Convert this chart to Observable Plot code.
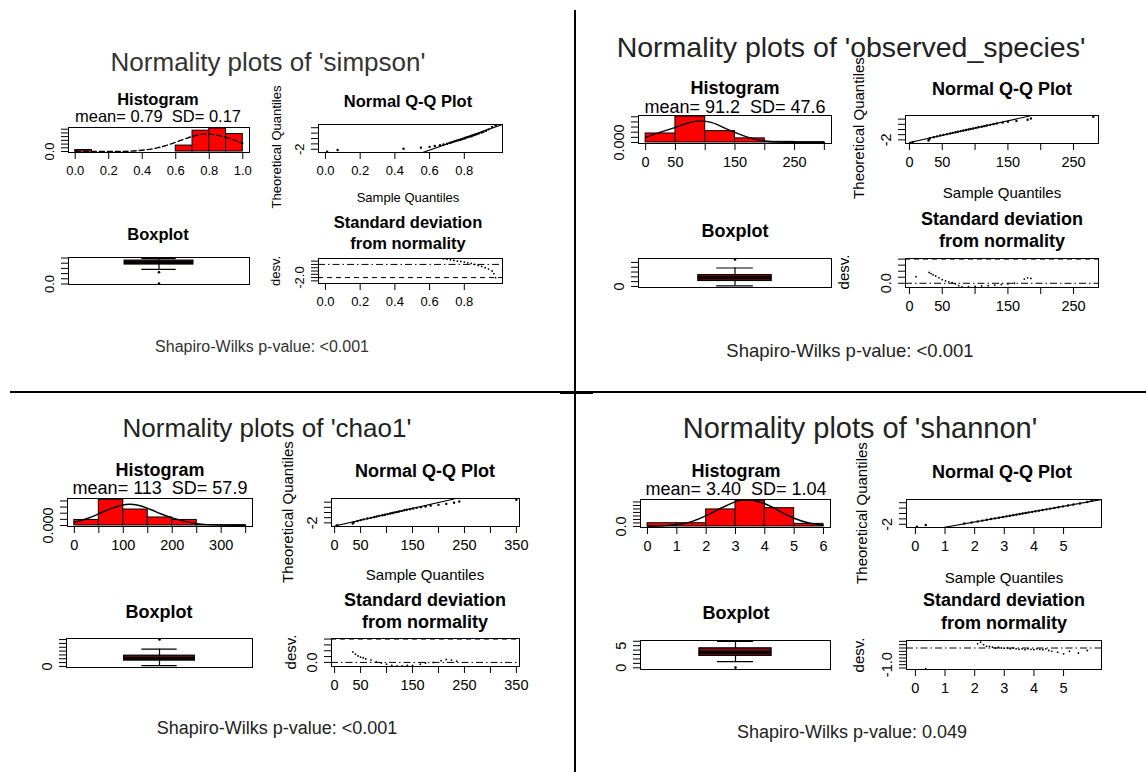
<!DOCTYPE html>
<html><head><meta charset="utf-8">
<script src="https://cdn.jsdelivr.net/npm/d3@7"></script>
<script src="https://cdn.jsdelivr.net/npm/@observablehq/plot@0.6"></script>
<style>
html,body{margin:0;padding:0;background:#fff;}
body{width:1146px;height:772px;position:relative;overflow:hidden;}
</style></head><body>
<script>
// ================= DATA =================
const variableNames = ["simpson", "observed_species", "chao1", "shannon"];
const meanLabels = ["0.79", "91.2", "113", "3.40"];
const sdLabels = ["0.17", "47.6", "57.9", "1.04"];
const pValueLabels = ["<0.001", "<0.001", "<0.001", "0.049"];

// ---- simpson ----
const simpsonBreaks = [0, 0.1, 0.2, 0.3, 0.4, 0.5, 0.6, 0.7, 0.8, 0.9, 1.0];
const simpsonDensity = [0.2, 0, 0, 0, 0, 0, 0.8, 2.8, 3.1, 2.35];
const simpsonCurveX = [0, 0.2, 0.3, 0.4, 0.5, 0.6, 0.7, 0.79, 0.9, 1.0];
const simpsonCurveY = [0, 0, 0.02, 0.17, 0.55, 1.25, 2.04, 2.35, 1.9, 1.09];
const simpsonHistXTicks = [0, 0.2, 0.4, 0.6, 0.8, 1.0];
const simpsonHistXLabels = ["0.0", "0.2", "0.4", "0.6", "0.8", "1.0"];
const simpsonHistYTicks = [0, 0.5, 1, 1.5, 2, 2.5, 3];
const simpsonHistYLabels = ["0.0", "", "", "", "", "", ""];
const simpsonQQSample = [0.01, 0.07, 0.45, 0.55, 0.6, 0.63, 0.66, 0.68, 0.70, 0.715, 0.725, 0.735, 0.745, 0.755, 0.765, 0.775, 0.78, 0.79, 0.80, 0.805, 0.81, 0.82, 0.83, 0.84, 0.845, 0.855, 0.865, 0.875, 0.885, 0.90, 0.91, 0.925, 0.94, 0.96, 0.98];
const simpsonQQTheo = [-2.45, -2.13, -1.9, -1.7, -1.55, -1.4, -1.26, -1.11, -0.97, -0.84, -0.73, -0.62, -0.52, -0.43, -0.34, -0.25, -0.17, -0.08, 0, 0.08, 0.17, 0.25, 0.34, 0.43, 0.52, 0.62, 0.73, 0.84, 0.97, 1.11, 1.26, 1.45, 1.7, 2.13, 2.45];
const simpsonQQLineX = [0.56, 1.02];
const simpsonQQLineY = [-2.6, 2.6];
const simpsonQQXTicks = [0, 0.2, 0.4, 0.6, 0.8];
const simpsonQQXLabels = ["0.0", "0.2", "0.4", "0.6", "0.8"];
const simpsonQQYTicks = [-2, -1, 0, 1, 2];
const simpsonQQYLabels = ["-2", "", "", "", ""];
const simpsonBoxStats = [0.56, 0.75, 0.83, 0.90, 0.98]; // lower whisker, Q1, median, Q3, upper whisker
const simpsonOutliers = [0.02, 0.45];
const simpsonBoxYTicks = [0, 0.2, 0.4, 0.6, 0.8, 1.0];
const simpsonBoxYLabels = ["0.0", "", "", "", "", ""];
const simpsonDevX = [0.68, 0.70, 0.72, 0.74, 0.76, 0.78, 0.80, 0.82, 0.84, 0.86, 0.88, 0.90, 0.92, 0.94, 0.96, 0.97, 0.98];
const simpsonDevY = [0.85, 0.8, 0.7, 0.6, 0.5, 0.45, 0.35, 0.25, 0.15, 0.0, -0.15, -0.3, -0.5, -0.7, -1.0, -1.4, -2.0];
const simpsonDevRefs = [0, -2]; // dot-dash, dashed
const simpsonDevYTicks = [-2.5, -2, -1.5, -1, -0.5, 0, 0.5];
const simpsonDevYLabels = ["", "-2.0", "", "", "", "", ""];

// ---- observed_species ----
const observedBreaks = [0, 50, 100, 150, 200, 250, 300];
const observedDensity = [0.0035, 0.0101, 0.0044, 0.0016, 0.00025, 0.00013];
const observedCurveX = [0, 25, 50, 75, 91, 110, 130, 150, 175, 200, 225, 250, 300];
const observedCurveY = [0.0020, 0.0040, 0.0059, 0.0078, 0.0083, 0.0078, 0.0059, 0.0039, 0.0018, 0.0006, 0.00015, 0.00004, 0];
const observedHistXTicks = [0, 50, 100, 150, 200, 250, 300];
const observedHistXLabels = ["0", "50", "", "150", "", "250", ""];
const observedHistYTicks = [0, 0.002, 0.004, 0.006, 0.008, 0.010];
const observedHistYLabels = ["0.000", "", "", "", "", ""];
const observedQQSample = [5, 29, 30, 31, 37, 42, 47, 52, 57, 62, 66, 70, 74, 78, 82, 86, 90, 93, 97, 101, 105, 110, 114, 118, 123, 128, 133, 142, 150, 163, 180, 185, 280];
const observedQQTheo = [-2.45, -2.13, -1.87, -1.66, -1.48, -1.32, -1.17, -1.03, -0.9, -0.77, -0.65, -0.53, -0.42, -0.31, -0.2, -0.1, 0, 0.1, 0.2, 0.31, 0.42, 0.53, 0.65, 0.77, 0.9, 1.03, 1.17, 1.32, 1.48, 1.66, 1.87, 2.13, 2.45];
const observedQQLineX = [0, 183];
const observedQQLineY = [-2.5, 2.6];
const observedQQXTicks = [0, 50, 100, 150, 200, 250];
const observedQQXLabels = ["0", "50", "", "150", "", "250"];
const observedQQYTicks = [-2, -1, 0, 1, 2];
const observedQQYLabels = ["-2", "", "", "", ""];
const observedBoxStats = [5, 57, 90, 118, 192];
const observedOutliers = [280];
const observedBoxYTicks = [0, 50, 100, 150, 200, 250];
const observedBoxYLabels = ["0", "", "", "", "", ""];
const observedDevX = [10, 30, 33, 36, 40, 45, 50, 55, 60, 65, 70, 75, 80, 90, 100, 110, 120, 130, 140, 150, 160, 175, 180, 185];
const observedDevY = [0.55, 0.9, 0.8, 0.7, 0.6, 0.45, 0.3, 0.2, 0.12, 0.05, -0.05, -0.2, -0.3, -0.28, -0.25, -0.22, -0.2, -0.15, -0.1, -0.05, 0.0, 0.35, 0.45, 0.4];
const observedDevRefs = [0, 2];
const observedDevYTicks = [0, 0.5, 1, 1.5, 2];
const observedDevYLabels = ["0.0", "", "", "", ""];

// ---- chao1 ----
const chao1Breaks = [0, 50, 100, 150, 200, 250, 300, 350];
const chao1Density = [0.0018, 0.0084, 0.0052, 0.0026, 0.0018, 0.0001, 0.0001];
const chao1CurveX = [0, 25, 50, 75, 113, 150, 175, 200, 250, 300, 350];
const chao1CurveY = [0.0010, 0.0022, 0.0038, 0.0055, 0.0069, 0.0056, 0.0039, 0.0025, 0.0006, 0.0001, 0];
const chao1HistXTicks = [0, 50, 100, 150, 200, 250, 300, 350];
const chao1HistXLabels = ["0", "", "100", "", "200", "", "300", ""];
const chao1HistYTicks = [0, 0.002, 0.004, 0.006, 0.008];
const chao1HistYLabels = ["0.000", "", "", "", ""];
const chao1QQSample = [5, 35, 37, 44, 50, 56, 63, 70, 76, 81, 86, 92, 97, 102, 107, 111, 115, 120, 124, 129, 134, 139, 145, 151, 158, 166, 175, 185, 200, 215, 230, 240, 350];
const chao1QQTheo = [-2.45, -2.13, -1.87, -1.66, -1.48, -1.32, -1.17, -1.03, -0.9, -0.77, -0.65, -0.53, -0.42, -0.31, -0.2, -0.1, 0, 0.1, 0.2, 0.31, 0.42, 0.53, 0.65, 0.77, 0.9, 1.03, 1.17, 1.32, 1.48, 1.66, 1.87, 2.13, 2.45];
const chao1QQLineX = [0, 230];
const chao1QQLineY = [-2.6, 2.6];
const chao1QQXTicks = [0, 50, 100, 150, 200, 250, 300, 350];
const chao1QQXLabels = ["0", "50", "", "150", "", "250", "", "350"];
const chao1QQYTicks = [-2, -1, 0, 1, 2];
const chao1QQYLabels = ["-2", "", "", "", ""];
const chao1BoxStats = [10, 76, 108, 140, 225];
const chao1Outliers = [350];
const chao1BoxYTicks = [0, 50, 100, 150, 200, 250, 300, 350];
const chao1BoxYLabels = ["0", "", "", "", "", "", "", ""];
const chao1DevX = [35, 40, 45, 50, 55, 60, 70, 80, 90, 100, 110, 120, 130, 140, 150, 165, 175, 190, 205, 215, 225, 235];
const chao1DevY = [0.9, 0.7, 0.55, 0.45, 0.4, 0.3, 0.2, 0.05, -0.05, -0.15, -0.25, -0.3, -0.3, -0.25, -0.25, -0.15, -0.05, 0.0, 0.15, 0.25, 0.2, 0.1];
const chao1DevRefs = [0, 2];
const chao1DevYTicks = [0, 0.5, 1, 1.5, 2];
const chao1DevYLabels = ["0.0", "", "", "", ""];

// ---- shannon ----
const shannonBreaks = [0, 1, 2, 3, 4, 5, 6];
const shannonDensity = [0.046, 0.046, 0.243, 0.367, 0.261, 0.037];
const shannonCurveX = [0, 0.5, 1, 1.5, 2, 2.5, 3, 3.4, 4, 4.5, 5, 5.5, 6];
const shannonCurveY = [0.002, 0.008, 0.027, 0.07, 0.154, 0.26, 0.356, 0.384, 0.324, 0.219, 0.117, 0.05, 0.017];
const shannonHistXTicks = [0, 1, 2, 3, 4, 5, 6];
const shannonHistXLabels = ["0", "1", "2", "3", "4", "5", "6"];
const shannonHistYTicks = [0, 0.05, 0.1, 0.15, 0.2, 0.25, 0.3, 0.35];
const shannonHistYLabels = ["0.0", "", "", "", "", "", "", ""];
const shannonQQSample = [0.05, 0.35, 1.65, 1.9, 2.1, 2.26, 2.41, 2.55, 2.69, 2.82, 2.95, 3.07, 3.19, 3.3, 3.41, 3.52, 3.62, 3.72, 3.82, 3.94, 4.05, 4.17, 4.29, 4.42, 4.55, 4.69, 4.83, 4.98, 5.15, 5.33, 5.55, 5.8, 5.95];
const shannonQQTheo = [-2.45, -2.13, -1.87, -1.66, -1.48, -1.32, -1.17, -1.03, -0.9, -0.77, -0.65, -0.53, -0.42, -0.31, -0.2, -0.1, 0, 0.1, 0.2, 0.31, 0.42, 0.53, 0.65, 0.77, 0.9, 1.03, 1.17, 1.32, 1.48, 1.66, 1.87, 2.13, 2.45];
const shannonQQLineX = [0.94, 6.3];
const shannonQQLineY = [-2.6, 2.6];
const shannonQQXTicks = [0, 1, 2, 3, 4, 5];
const shannonQQXLabels = ["0", "1", "2", "3", "4", "5"];
const shannonQQYTicks = [-2, -1, 0, 1, 2];
const shannonQQYLabels = ["-2", "", "", "", ""];
const shannonBoxStats = [1.4, 2.7, 3.5, 4.4, 5.95];
const shannonOutliers = [0.05];
const shannonBoxYTicks = [0, 1, 2, 3, 4, 5, 6];
const shannonBoxYLabels = ["0", "", "", "", "", "5", ""];
const shannonDevX = [0.35, 2.1, 2.2, 2.3, 2.4, 2.5, 2.6, 2.7, 2.8, 2.9, 3.0, 3.1, 3.2, 3.3, 3.4, 3.5, 3.6, 3.7, 3.8, 3.9, 4.0, 4.1, 4.2, 4.3, 4.4, 4.5, 4.6, 4.8, 5.0, 5.2, 5.5, 5.8];
const shannonDevY = [-1.25, 0.25, 0.35, 0.2, 0.1, 0.1, 0.05, 0.0, 0.05, 0.0, -0.02, 0.0, -0.05, 0.0, -0.05, -0.08, -0.05, -0.1, -0.05, -0.08, -0.1, -0.05, -0.08, -0.1, -0.05, -0.15, -0.2, -0.25, -0.35, -0.2, -0.3, -0.15];
const shannonDevRefs = [0, 2];
const shannonDevYTicks = [-1.2, -1.0, -0.8, -0.6, -0.4, -0.2, 0, 0.2, 0.4];
const shannonDevYLabels = ["", "-1.0", "", "", "", "", "", "", ""];

// ================= LAYOUT (positions / styles only) =================
const FONT = '"Liberation Sans", Arial, Helvetica, sans-serif';
const boxWex = 0.38;
const LAYOUT = {
  simpson: {
    title: [268, 62, 26], sub: 16.5, tick: 13, lab: 13, shap: 16, txt: "#333",
    histBox: [68, 127, 249, 152], histTitle: [158, 99], histSub: [158, 116], histX: [-0.04, 1.04], histY: [-0.13, 3.23], curveDash: "5,3",
    qqBox: [318, 124, 502, 152], qqTitle: [408, 101], sampLab: [408, 197], theoLab: [276, 147], qqX: [-0.04, 1.02], qqY: [-2.6, 2.6],
    boxBox: [68, 257, 249, 284], boxTitle: [158, 234], boxY: [-0.02, 1.02],
    devBox: [318, 258, 502, 283], devTitle: [408, 222, 243], desvLab: [275, 271], devY: [-2.9, 0.9],
    shapiro: [262, 347]
  },
  observed_species: {
    title: [851, 47, 28.5], sub: 18, tick: 14.5, lab: 15, shap: 18.5, txt: "#222",
    histBox: [638, 115, 831, 143], histTitle: [735, 88], histSub: [735, 107], histX: [-12, 312], histY: [-0.0004, 0.0105], curveDash: null,
    qqBox: [905, 115, 1098, 143], qqTitle: [1002, 89], sampLab: [1002, 192], theoLab: [858, 128], qqX: [-6, 288], qqY: [-2.7, 2.7],
    boxBox: [638, 258, 831, 287], boxTitle: [735, 231], boxY: [-11, 291],
    devBox: [905, 258, 1098, 287], devTitle: [1002, 219, 241], desvLab: [843, 272], devY: [-0.35, 2.05],
    shapiro: [850, 351]
  },
  chao1: {
    title: [267, 428, 26], sub: 18, tick: 14.5, lab: 15, shap: 18, txt: "#222",
    histBox: [67, 498, 252, 526], histTitle: [160, 470], histSub: [160, 488], histX: [-14, 364], histY: [-0.00034, 0.0088], curveDash: null,
    qqBox: [331, 498, 519, 526], qqTitle: [425, 471], sampLab: [425, 574], theoLab: [287, 512], qqX: [-6, 356], qqY: [-2.7, 2.7],
    boxBox: [66, 638, 252, 667], boxTitle: [159, 612], boxY: [-14, 364],
    devBox: [331, 638, 519, 666], devTitle: [425, 600, 622], desvLab: [290, 652], devY: [-0.35, 2.05],
    shapiro: [277, 728]
  },
  shannon: {
    title: [860, 428, 29], sub: 18, tick: 14.5, lab: 15, shap: 18, txt: "#222",
    histBox: [640, 499, 830, 527], histTitle: [736, 471], histSub: [736, 489], histX: [-0.24, 6.24], histY: [-0.015, 0.385], curveDash: null,
    qqBox: [906, 499, 1101, 527], qqTitle: [1002, 472], sampLab: [1004, 577], theoLab: [861, 513], qqX: [-0.3, 6.28], qqY: [-2.6, 2.6],
    boxBox: [640, 640, 830, 669], boxTitle: [736, 613], boxY: [-0.38, 6.17],
    devBox: [906, 640, 1101, 669], devTitle: [1004, 600, 623], desvLab: [858, 655], devY: [-1.29, 0.45],
    shapiro: [852, 732]
  }
};

const DATA = {
  simpson: {breaks: simpsonBreaks, density: simpsonDensity, cx: simpsonCurveX, cy: simpsonCurveY, hxt: simpsonHistXTicks, hxl: simpsonHistXLabels, hyt: simpsonHistYTicks, hyl: simpsonHistYLabels, qs: simpsonQQSample, qt: simpsonQQTheo, qlx: simpsonQQLineX, qly: simpsonQQLineY, qxt: simpsonQQXTicks, qxl: simpsonQQXLabels, qyt: simpsonQQYTicks, qyl: simpsonQQYLabels, box: simpsonBoxStats, out: simpsonOutliers, byt: simpsonBoxYTicks, byl: simpsonBoxYLabels, dx: simpsonDevX, dy: simpsonDevY, dref: simpsonDevRefs, dyt: simpsonDevYTicks, dyl: simpsonDevYLabels},
  observed_species: {breaks: observedBreaks, density: observedDensity, cx: observedCurveX, cy: observedCurveY, hxt: observedHistXTicks, hxl: observedHistXLabels, hyt: observedHistYTicks, hyl: observedHistYLabels, qs: observedQQSample, qt: observedQQTheo, qlx: observedQQLineX, qly: observedQQLineY, qxt: observedQQXTicks, qxl: observedQQXLabels, qyt: observedQQYTicks, qyl: observedQQYLabels, box: observedBoxStats, out: observedOutliers, byt: observedBoxYTicks, byl: observedBoxYLabels, dx: observedDevX, dy: observedDevY, dref: observedDevRefs, dyt: observedDevYTicks, dyl: observedDevYLabels},
  chao1: {breaks: chao1Breaks, density: chao1Density, cx: chao1CurveX, cy: chao1CurveY, hxt: chao1HistXTicks, hxl: chao1HistXLabels, hyt: chao1HistYTicks, hyl: chao1HistYLabels, qs: chao1QQSample, qt: chao1QQTheo, qlx: chao1QQLineX, qly: chao1QQLineY, qxt: chao1QQXTicks, qxl: chao1QQXLabels, qyt: chao1QQYTicks, qyl: chao1QQYLabels, box: chao1BoxStats, out: chao1Outliers, byt: chao1BoxYTicks, byl: chao1BoxYLabels, dx: chao1DevX, dy: chao1DevY, dref: chao1DevRefs, dyt: chao1DevYTicks, dyl: chao1DevYLabels},
  shannon: {breaks: shannonBreaks, density: shannonDensity, cx: shannonCurveX, cy: shannonCurveY, hxt: shannonHistXTicks, hxl: shannonHistXLabels, hyt: shannonHistYTicks, hyl: shannonHistYLabels, qs: shannonQQSample, qt: shannonQQTheo, qlx: shannonQQLineX, qly: shannonQQLineY, qxt: shannonQQXTicks, qxl: shannonQQXLabels, qyt: shannonQQYTicks, qyl: shannonQQYLabels, box: shannonBoxStats, out: shannonOutliers, byt: shannonBoxYTicks, byl: shannonBoxYLabels, dx: shannonDevX, dy: shannonDevY, dref: shannonDevRefs, dyt: shannonDevYTicks, dyl: shannonDevYLabels}
};

// ================= HELPERS =================
const M = {left: 45, right: 12, top: 5, bottom: 38};

function addText(txt, x, y, o = {}) {
  const d = document.createElement("div");
  d.textContent = txt;
  Object.assign(d.style, {
    position: "absolute", left: x + "px", top: y + "px",
    transform: "translate(-50%,-50%)" + (o.rotate ? " rotate(-90deg)" : ""),
    whiteSpace: "pre", fontFamily: FONT, fontSize: (o.size || 15) + "px",
    fontWeight: o.bold ? "bold" : "normal", color: o.color || "#000", lineHeight: "1"
  });
  document.body.appendChild(d);
}
function addDiv(x, y, w, h) {
  const d = document.createElement("div");
  Object.assign(d.style, {position: "absolute", left: x + "px", top: y + "px", width: w + "px", height: h + "px", background: "#000"});
  document.body.appendChild(d);
}
function place(svg, box) {
  const w = document.createElement("div");
  Object.assign(w.style, {position: "absolute", left: (box[0] - M.left) + "px", top: (box[1] - M.top) + "px"});
  w.appendChild(svg);
  document.body.appendChild(w);
}
function base(box, fs) {
  return {
    width: box[2] - box[0] + M.left + M.right, height: box[3] - box[1] + M.top + M.bottom,
    marginLeft: M.left, marginRight: M.right, marginTop: M.top, marginBottom: M.bottom,
    style: {fontSize: fs + "px", fontFamily: FONT, color: "#000", background: "transparent", overflow: "visible"}
  };
}
function xAxis(ticks, labels) {
  const m = new Map(ticks.map((t, i) => [t, labels[i]]));
  return Plot.axisX({ticks, tickFormat: d => m.get(d) ?? "", tickSize: 7, tickPadding: 6, label: null});
}
function yAxis(ticks, labels) {
  const m = new Map(ticks.map((t, i) => [t, labels[i]]));
  return Plot.axisY({ticks, tickFormat: d => m.get(d) ?? "", tickSize: 7, tickPadding: 8, tickRotate: -90, label: null});
}
const frame = () => Plot.frame({stroke: "#000", strokeWidth: 1});

// ================= DRAW =================
variableNames.forEach((name, k) => {
  const L = LAYOUT[name], D = DATA[name];
  addText(`Normality plots of '${name}'`, L.title[0], L.title[1], {size: L.title[2], color: L.txt});

  // Histogram
  const bins = D.density.map((d, i) => ({x1: D.breaks[i], x2: D.breaks[i + 1], y: d}));
  const curve = D.cx.map((x, i) => ({x, y: D.cy[i]}));
  place(Plot.plot({
    ...base(L.histBox, L.tick),
    x: {domain: L.histX}, y: {domain: L.histY},
    marks: [
      Plot.rectY(bins, {x1: "x1", x2: "x2", y1: 0, y2: "y", fill: "#ff0000", stroke: "#000", strokeWidth: 1, clip: true}),
      Plot.line(curve, {x: "x", y: "y", curve: "natural", stroke: "#000", strokeWidth: 1.4, strokeDasharray: L.curveDash, clip: true}),
      frame(),
      xAxis(D.hxt, D.hxl), yAxis(D.hyt, D.hyl)
    ]
  }), L.histBox);
  addText("Histogram", L.histTitle[0], L.histTitle[1], {size: L.sub, bold: true});
  addText(`mean= ${meanLabels[k]}  SD= ${sdLabels[k]}`, L.histSub[0], L.histSub[1], {size: L.sub});

  // Q-Q plot
  const qq = D.qs.map((s, i) => ({s, t: D.qt[i]}));
  const qline = D.qlx.map((x, i) => ({x, y: D.qly[i]}));
  place(Plot.plot({
    ...base(L.qqBox, L.tick),
    x: {domain: L.qqX}, y: {domain: L.qqY},
    marks: [
      Plot.line(qline, {x: "x", y: "y", stroke: "#000", strokeWidth: 1.2, clip: true}),
      Plot.dot(qq, {x: "s", y: "t", r: 1.2, fill: "#000", clip: true}),
      frame(),
      xAxis(D.qxt, D.qxl), yAxis(D.qyt, D.qyl)
    ]
  }), L.qqBox);
  addText("Normal Q-Q Plot", L.qqTitle[0], L.qqTitle[1], {size: L.sub, bold: true});
  addText("Sample Quantiles", L.sampLab[0], L.sampLab[1], {size: L.lab});
  addText("Theoretical Quantiles", L.theoLab[0], L.theoLab[1], {size: L.lab, rotate: true});

  // Boxplot
  const [lw, q1, med, q3, uw] = D.box;
  const h = boxWex / 2;
  const st = [{x: 1, lw, q1, med, q3, uw}];
  place(Plot.plot({
    ...base(L.boxBox, L.tick),
    x: {domain: [0.5, 1.5], axis: null}, y: {domain: L.boxY},
    marks: [
      Plot.ruleX(st, {x: "x", y1: "lw", y2: "uw", stroke: "#000", strokeWidth: 1.2}),
      Plot.ruleY(st, {y: "lw", x1: d => d.x - h / 2, x2: d => d.x + h / 2, stroke: "#000", strokeWidth: 1.2}),
      Plot.ruleY(st, {y: "uw", x1: d => d.x - h / 2, x2: d => d.x + h / 2, stroke: "#000", strokeWidth: 1.2}),
      Plot.rect(st, {x1: d => d.x - h, x2: d => d.x + h, y1: "q1", y2: "q3", fill: "#7d0a0a", stroke: "#000", strokeWidth: 1.2}),
      Plot.ruleY(st, {y: "med", x1: d => d.x - h, x2: d => d.x + h, stroke: "#000", strokeWidth: 3}),
      Plot.dot(D.out, {x: () => 1, y: d => d, r: 1.3, fill: "#000"}),
      frame(),
      yAxis(D.byt, D.byl)
    ]
  }), L.boxBox);
  addText("Boxplot", L.boxTitle[0], L.boxTitle[1], {size: L.sub, bold: true});

  // Standard deviation from normality
  const dev = D.dx.map((x, i) => ({x, y: D.dy[i]}));
  place(Plot.plot({
    ...base(L.devBox, L.tick),
    x: {domain: L.qqX}, y: {domain: L.devY},
    marks: [
      Plot.ruleY([D.dref[0]], {stroke: "#000", strokeWidth: 1, strokeDasharray: "7,3,1.5,3", clip: true}),
      Plot.ruleY([D.dref[1]], {stroke: "#000", strokeWidth: 1, strokeDasharray: "5,4", clip: true}),
      Plot.dot(dev, {x: "x", y: "y", r: 0.9, fill: "#000", clip: true}),
      frame(),
      xAxis(D.qxt, D.qxl), yAxis(D.dyt, D.dyl)
    ]
  }), L.devBox);
  addText("Standard deviation", L.devTitle[0], L.devTitle[1], {size: L.sub, bold: true});
  addText("from normality", L.devTitle[0], L.devTitle[2], {size: L.sub, bold: true});
  addText("desv.", L.desvLab[0], L.desvLab[1], {size: L.lab, rotate: true});

  addText(`Shapiro-Wilks p-value: ${pValueLabels[k]}`, L.shapiro[0], L.shapiro[1], {size: L.shap, color: L.txt});
});

// Panel dividers
addDiv(574, 10, 2, 762);
addDiv(10, 391, 1136, 1.5);
addDiv(560, 391, 33, 2.5);
</script>
</body></html>
